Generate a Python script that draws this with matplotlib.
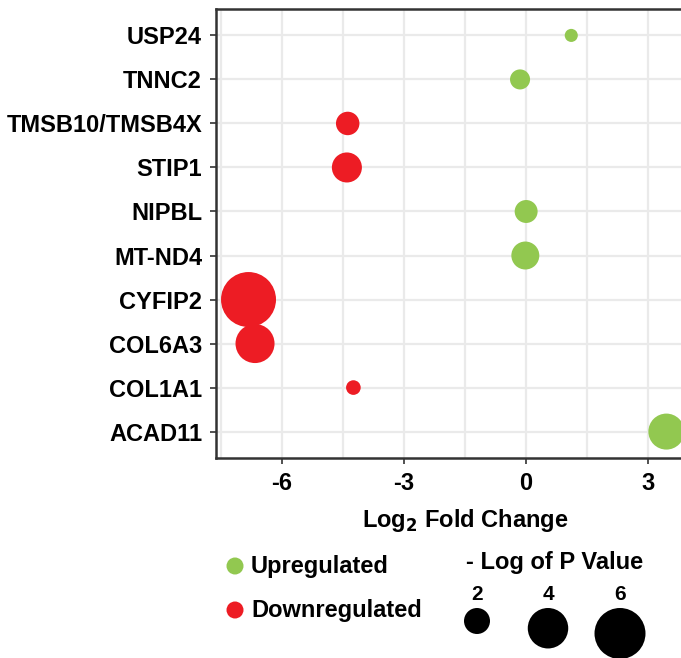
import numpy as np
import matplotlib
matplotlib.use("Agg")
from matplotlib import pyplot as plt

plt.rcParams['font.family'] = ['Liberation Sans', 'DejaVu Sans']
plt.rcParams['font.weight'] = 'bold'
plt.rcParams['axes.unicode_minus'] = False

# data (bottom to top)
genes = ['ACAD11', 'COL1A1', 'COL6A3', 'CYFIP2', 'MT-ND4',
         'NIPBL', 'STIP1', 'TMSB10/TMSB4X', 'TNNC2', 'USP24']
log2fc = [3.46, -4.24, -6.66, -6.82, -0.01, 0.01, -4.40, -4.38, -0.14, 1.12]
neglogp = [3.29, 1.04, 3.76, 6.88, 2.22, 1.69, 2.47, 1.74, 1.43, 0.95]
regulation = ['Up', 'Down', 'Down', 'Down', 'Up', 'Up', 'Down', 'Down', 'Up', 'Up']
legend_sizes = [2, 4, 6]

colors = {'Up': '#92C850', 'Down': '#ED1C24'}
W, H = 681, 658
DPI = 100


def marker_area(v):
    # diameter in pixels from -log p (area scale), converted to points^2
    d_px = np.sqrt(np.maximum(-286 + 481 * np.asarray(v, float), 1))
    return (d_px * 72.0 / DPI) ** 2


fig = plt.figure(figsize=(W / DPI, H / DPI), dpi=DPI)
ax = fig.add_axes([216 / W, 1 - 458 / H, 1.003 - 216 / W, (458 - 9) / H])

ypos = np.arange(len(genes))
ax.scatter(log2fc, ypos, s=marker_area(neglogp),
           c=[colors[r] for r in regulation], edgecolors='none', zorder=3,
           clip_on=True)

ax.set_xlim(-7.62, 3.87)
ax.set_ylim(-0.6, len(genes) - 0.4)
ax.set_xticks([-6, -3, 0, 3])
ax.set_xticks([-7.5, -4.5, -1.5, 1.5], minor=True)
ax.set_yticks(ypos)
ax.set_yticklabels(genes)
ax.grid(True, which='both', color='#EAEAEA', lw=1.6, zorder=0)
ax.set_axisbelow(True)
ax.tick_params(axis='both', which='major', labelsize=17, length=4, width=1.2,
               color='#333333', pad=6)
ax.tick_params(axis='x', which='minor', length=0)
for lab in ax.get_xticklabels() + ax.get_yticklabels():
    lab.set_fontweight('bold')
for side in ['left', 'bottom', 'top']:
    ax.spines[side].set_color('#333333')
    ax.spines[side].set_linewidth(1.8)
ax.spines['right'].set_visible(False)
ax.set_xlabel('Log$_\\mathbf{2}$ Fold Change', fontsize=17, fontweight='bold')
ax.xaxis.set_label_coords((464 - 216) / (681 - 216), -(521 - 458) / (458 - 9))
ax.xaxis.label.set_verticalalignment('center')

# legend drawn in figure pixel space
lg = fig.add_axes([0, 0, 1, 1])
lg.set_xlim(0, W)
lg.set_ylim(H, 0)
lg.axis('off')
key_area = (17 * 72.0 / DPI) ** 2
lg.scatter([235], [566], s=key_area, c=colors['Up'], edgecolors='none')
lg.scatter([235], [610], s=key_area, c=colors['Down'], edgecolors='none')
lg.text(251, 566, 'Upregulated', fontsize=17, fontweight='bold', va='center')
lg.text(251, 610, 'Downregulated', fontsize=17, fontweight='bold', va='center')
lg.text(555, 563, '- Log of P Value', fontsize=17, fontweight='bold', va='center', ha='center')
lx = [477, 548, 620]
for x, v in zip(lx, legend_sizes):
    d = np.sqrt(-286 + 481 * v)
    lg.scatter([x], [608 + d / 2], s=marker_area(v), c='black', edgecolors='none')
    lg.text(x, 594, str(v), fontsize=15, fontweight='bold', va='center', ha='center')

fig.savefig('out.png', dpi=DPI)
